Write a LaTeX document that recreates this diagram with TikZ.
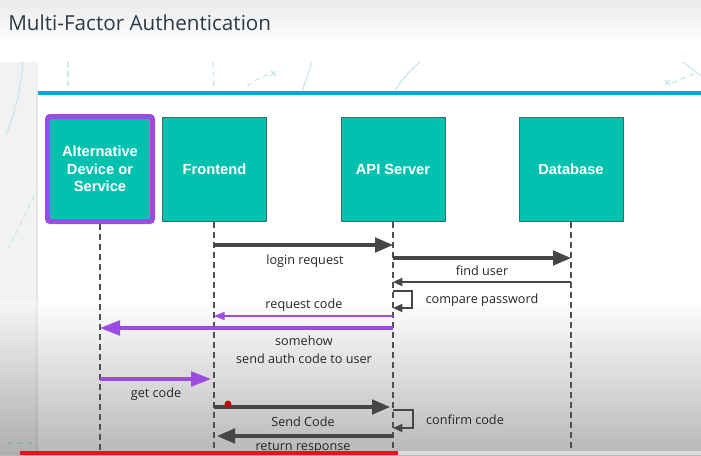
\documentclass[tikz,border=0pt]{standalone}
\usepackage{fontspec}
\setmainfont{Open Sans}
\newfontfamily\boxfont{Liberation Sans}
\usetikzlibrary{arrows.meta,calc}
\definecolor{tealbox}{RGB}{2,194,175}
\definecolor{tealedge}{RGB}{60,110,105}
\definecolor{purp}{RGB}{155,75,226}
\definecolor{darkarr}{RGB}{70,70,70}
\definecolor{lifec}{RGB}{80,80,80}
\definecolor{titlec}{RGB}{45,58,70}
\definecolor{deco}{RGB}{200,232,238}
\definecolor{panelblue}{RGB}{14,163,217}
\definecolor{redbar}{RGB}{226,20,28}
\tikzset{
  actor/.style={draw=tealedge, line width=0.6pt, fill=tealbox, minimum width=78pt, minimum height=78pt,
    text=white, align=center, font=\boxfont\bfseries\fontsize{11}{13}\selectfont, inner sep=0pt},
  altactor/.style={actor, draw=purp, line width=3.75pt, rounded corners=2pt, minimum width=78.75pt, minimum height=78.75pt},
  lifeline/.style={draw=lifec, line width=1.1pt, dash pattern=on 4.5pt off 3pt},
  bigmsg/.style={draw=darkarr, line width=2.3pt, -{Triangle[length=13.5pt,width=11pt]}},
  thinmsg/.style={draw=darkarr, line width=1.4pt, -{Triangle[length=7pt,width=6pt]}},
  loopmsg/.style={draw=darkarr, line width=1.1pt, -{Triangle[length=7pt,width=6pt]}},
  pbigmsg/.style={draw=purp, line width=2.3pt, -{Triangle[length=15pt,width=11pt]}},
  pthinmsg/.style={draw=purp, line width=1.3pt, -{Triangle[length=8pt,width=6pt]}},
  lbl/.style={text=black!85, font=\fontsize{9.5}{13.5}\selectfont, align=center, inner sep=0pt},
  decoline/.style={draw=deco, line width=0.9pt},
  decodash/.style={draw=deco, line width=0.9pt, dash pattern=on 4pt off 3pt},
}
\begin{document}
\begin{tikzpicture}[x=0.75pt,y=-0.75pt]
\useasboundingbox (0,0) rectangle (701,455);
% background
\fill[white] (0,0) rectangle (701,455);
\shade[top color=black!8, bottom color=white] (0,0) rectangle (701,45);
\fill[black!5] (0,62) rectangle (38,455);
% decorative strokes
\draw[decoline] (23,62) .. controls (20,95) and (14,115) .. (6,135);
\draw[decodash] (38,187) .. controls (28,210) and (18,230) .. (8,248);
\draw[decodash] (68,62) -- (68,88);
\draw[decodash] (213,62) -- (214,90);
\draw[decodash] (247,86) .. controls (255,80) and (263,76) .. (270,74);
\draw[decoline] (271,71) -- (276,76) (276,71) -- (271,76);
\draw[decoline] (312,62) -- (302,91);
\draw[decoline] (420,62) .. controls (408,72) and (400,82) .. (395,91);
\draw[decodash] (672,83) -- (698,72);
\draw[decoline] (665,80) -- (670,85) (670,80) -- (665,85);
\draw[decoline] (683,62) -- (701,76);
\draw[decodash] (8,443) -- (38,443);
% panel
\fill[black!10] (36,91) rectangle (38,455);
\fill[white] (38,91) rectangle (701,455);
\fill[panelblue] (38,91) rectangle (701,95);
% video darkening
\shade[top color=white, bottom color=black, opacity=0.28] (0,300) rectangle (701,455);
% title
\node[anchor=base west, inner sep=0pt, text=titlec, font=\fontsize{15.5}{18}\selectfont] (title) at (8,30) {Multi-Factor Authentication};
% actors
\node[altactor] (alt) at (100,169) {Alternative\\Device or\\Service};
\node[actor] (fe) at (214.5,169.5) {Frontend};
\node[actor] (api) at (393,169.5) {API Server};
\node[actor] (db) at (571,169.5) {Database};
% lifelines
\coordinate (altend) at (100,455);
\coordinate (feend) at (214,455);
\coordinate (apiend) at (393,455);
\coordinate (dbend) at (571,455);
\draw[lifeline] (alt.south) -- (altend);
\draw[lifeline] (fe.south -| feend) -- (feend);
\draw[lifeline] (api.south) -- (apiend);
\draw[lifeline] (db.south) -- (dbend);
% messages
\draw[bigmsg] (feend |- 0,245) -- (apiend |- 0,245);
\node[lbl] (l1) at (305,261) {login request};
\draw[bigmsg] (apiend |- 0,258) -- (dbend |- 0,258);
\node[lbl] (l2) at (482,271) {find user};
\draw[thinmsg] (dbend |- 0,282) -- (apiend |- 0,282);
\draw[loopmsg] (apiend |- 0,291) -- (412,291) -- (412,308) -- (apiend |- 0,308);
\node[lbl] (l3) at (482,300) {compare password};
\draw[pthinmsg] (apiend |- 0,316) -- (feend |- 0,316);
\node[lbl] (l4) at (304,305) {request code};
\draw[pbigmsg] (apiend |- 0,328) -- (altend |- 0,328);
\node[lbl] (l5) at (304,350) {somehow\\send auth code to user};
\draw[pbigmsg] (altend |- 0,379) -- (211,379);
\node[lbl] (l6) at (156,394) {get code};
\draw[bigmsg] (feend |- 0,407) -- (390,407);
\node[lbl] (l7) at (303,422) {Send Code};
\fill[red!75!black] (228,404) circle (2.6pt);
\draw[loopmsg] (apiend |- 0,410) -- (413,410) -- (413,428) -- (apiend |- 0,428);
\node[lbl] (l8) at (465,420) {confirm code};
\draw[bigmsg] (apiend |- 0,436) -- (217,436);
\node[lbl] (l9) at (303,448) {return response};
% video progress bar
\fill[black!14] (398,451) rectangle (701,455);
\fill[redbar] (20,451) rectangle (398,455);
\end{tikzpicture}
\end{document}
